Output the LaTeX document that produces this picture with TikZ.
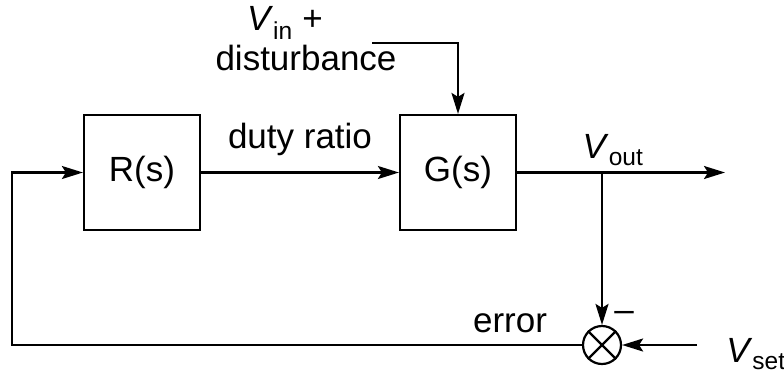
\documentclass[tikz,border=0pt]{standalone}
\usepackage{fontspec}
\setmainfont{Liberation Sans}
\usetikzlibrary{arrows.meta}
\begin{document}
\begin{tikzpicture}[x=1pt,y=-1pt,
  line width=2.2pt,
  lbl/.style={font=\fontsize{35}{40}\selectfont, inner sep=0pt},
  blk/.style={draw, minimum width=116pt, minimum height=115pt, font=\fontsize{35}{40}\selectfont},
  arr/.style={-{Stealth[length=21pt,width=13pt,inset=4pt]}},
  sumc/.style={draw, circle, minimum size=38pt, inner sep=0pt}
]
\useasboundingbox (0,0) rectangle (784,376);
\node[blk] (R) at (142,172.5) {R(s)};
\node[blk] (G) at (458,172.5) {G(s)};
\node[sumc] (S) at (602,345) {};
\draw (S.north west) -- (S.south east) (S.north east) -- (S.south west);
\coordinate (dstart) at (372,43);
\coordinate (dcorner) at (458,43);
\coordinate (outend) at (725,172.5);
\coordinate (branch) at (602,172.5);
\coordinate (setstart) at (697,345);
\coordinate (fb1) at (12,345);
\coordinate (fb2) at (12,172.5);
\draw[arr] (R.east) -- node[lbl, above=16pt] {duty ratio} (G.west);
\draw[arr] (dstart) -- (dcorner) -- (G.north);
\draw[arr] (G.east) -- (outend);
\draw[arr] (branch) -- (S.north);
\draw[arr] (setstart) -- (S.east);
\draw[arr] (S.west) -- (fb1) -- (fb2) -- (R.west);
\node[lbl, anchor=base] (vin) at (285,30) {\textit{V}\textsubscript{in} +};
\node[lbl, anchor=base] (dist) at (306,70) {disturbance};
\node[lbl, anchor=base] (vout) at (613,158) {\textit{V}\textsubscript{out}};
\node[lbl, anchor=base] (vset) at (756,362) {\textit{V}\textsubscript{set}};
\node[lbl, anchor=base] (err) at (510,332) {error};
\node[lbl] (minus) at (624,316) {\textendash};
\end{tikzpicture}
\end{document}
